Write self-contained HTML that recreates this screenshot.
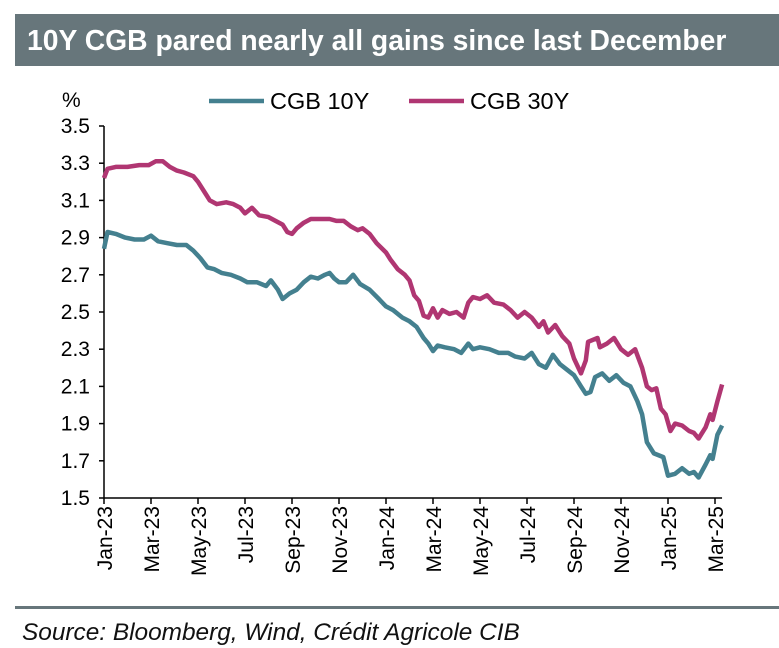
<!DOCTYPE html>
<html><head><meta charset="utf-8"><style>
body{margin:0;width:779px;height:648px;background:#fff;font-family:"Liberation Sans",Arial,sans-serif;overflow:hidden;position:relative}
#title{position:absolute;left:15px;top:14px;width:764px;height:52px;background:#67767b;color:#fff;font-weight:bold;font-size:28.3px;line-height:52px;padding-left:12px;box-sizing:border-box;white-space:nowrap}
#rule{position:absolute;left:15px;top:606px;width:764px;height:3px;background:#67767b}
#src{position:absolute;left:22px;top:619px;font-style:italic;font-size:24.4px;color:#111;white-space:nowrap}
</style></head><body>
<div id="title">10Y CGB pared nearly all gains since last December</div>
<svg id="chart" width="779" height="648" style="position:absolute;left:0;top:0"></svg>
<div id="rule"></div>
<div id="src">Source: Bloomberg, Wind, Crédit Agricole CIB</div>
<script>
const yTicks=[1.5,1.7,1.9,2.1,2.3,2.5,2.7,2.9,3.1,3.3,3.5];
const xLabels=["Jan-23","Mar-23","May-23","Jul-23","Sep-23","Nov-23","Jan-24","Mar-24","May-24","Jul-24","Sep-24","Nov-24","Jan-25","Mar-25"];
const t10=[0,0.15,0.5,0.9,1.3,1.7,2.0,2.3,2.7,3.1,3.5,3.8,4.1,4.4,4.7,5.0,5.4,5.8,6.1,6.5,6.9,7.1,7.4,7.6,7.9,8.2,8.5,8.8,9.1,9.4,9.6,9.8,10.0,10.3,10.6,10.9,11.3,11.7,12.0,12.3,12.7,13.0,13.3,13.6,13.8,14.0,14.2,14.5,14.9,15.2,15.5,15.7,16.0,16.4,16.8,17.2,17.5,17.9,18.2,18.5,18.8,19.1,19.4,19.7,20.0,20.3,20.5,20.7,20.9,21.2,21.5,21.8,22.1,22.4,22.7,22.9,23.1,23.4,23.8,24.0,24.3,24.6,24.9,25.1,25.3,25.6,25.8,25.9,26.1,26.3];
const cgb10=[2.84,2.93,2.92,2.90,2.89,2.89,2.91,2.88,2.87,2.86,2.86,2.83,2.79,2.74,2.73,2.71,2.70,2.68,2.66,2.66,2.64,2.67,2.62,2.57,2.60,2.62,2.66,2.69,2.68,2.70,2.71,2.68,2.66,2.66,2.70,2.65,2.62,2.57,2.53,2.51,2.47,2.45,2.42,2.36,2.33,2.29,2.32,2.31,2.30,2.28,2.33,2.30,2.31,2.30,2.28,2.28,2.26,2.25,2.28,2.22,2.20,2.27,2.22,2.19,2.16,2.10,2.06,2.07,2.15,2.17,2.13,2.16,2.12,2.10,2.02,1.95,1.80,1.74,1.72,1.62,1.63,1.66,1.63,1.64,1.61,1.68,1.73,1.71,1.84,1.89];
const t30=[0,0.15,0.5,1.0,1.5,1.9,2.2,2.5,2.8,3.1,3.4,3.8,4.0,4.3,4.5,4.8,5.2,5.5,5.8,6.0,6.3,6.6,7.0,7.3,7.6,7.8,8.0,8.2,8.5,8.8,9.2,9.6,9.9,10.2,10.5,10.8,11.0,11.3,11.6,12.0,12.2,12.5,12.8,13.0,13.2,13.4,13.6,13.8,14.0,14.2,14.4,14.7,15.0,15.3,15.5,15.7,16.0,16.3,16.6,17.0,17.3,17.6,17.9,18.2,18.5,18.7,18.9,19.2,19.5,19.8,20.0,20.3,20.5,20.6,21.0,21.1,21.4,21.7,22.0,22.3,22.6,22.9,23.1,23.3,23.5,23.7,23.9,24.1,24.3,24.6,24.9,25.1,25.3,25.6,25.8,25.9,26.1,26.3];
const cgb30=[3.22,3.27,3.28,3.28,3.29,3.29,3.31,3.31,3.28,3.26,3.25,3.23,3.20,3.14,3.10,3.08,3.09,3.08,3.06,3.03,3.06,3.02,3.01,2.99,2.97,2.93,2.92,2.95,2.98,3.00,3.00,3.00,2.99,2.99,2.96,2.94,2.95,2.92,2.87,2.82,2.78,2.73,2.70,2.67,2.59,2.56,2.48,2.47,2.52,2.47,2.51,2.49,2.50,2.47,2.55,2.58,2.57,2.59,2.55,2.54,2.51,2.47,2.50,2.47,2.42,2.45,2.39,2.43,2.37,2.33,2.25,2.17,2.24,2.34,2.36,2.31,2.33,2.36,2.30,2.27,2.30,2.20,2.10,2.08,2.09,1.98,1.95,1.86,1.90,1.89,1.86,1.85,1.82,1.88,1.95,1.92,2.02,2.11];
const svg=document.getElementById('chart');const NS='http://www.w3.org/2000/svg';
const X0=104,XW=23.5,Y0=498,YT=126;
const xs=m=>X0+m*XW; const ys=v=>Y0-(v-1.5)/2.0*(Y0-YT);
function mk(tag,at){const e=document.createElementNS(NS,tag);for(const k in at)e.setAttribute(k,at[k]);svg.appendChild(e);return e;}
let ax=mk('line',{x1:X0,y1:YT,x2:X0,y2:Y0,stroke:'#000','stroke-width':1.5});

let bx=mk('line',{x1:X0,y1:Y0,x2:xs(26.3),y2:Y0,stroke:'#000','stroke-width':1.5});

yTicks.forEach(v=>{const y=ys(v);
mk('line',{x1:X0-5,y1:y,x2:X0,y2:y,stroke:'#000','stroke-width':1.5});
const t=mk('text',{x:X0-14,y:y+7,'text-anchor':'end','font-size':21,fill:'#000'});t.textContent=v.toFixed(1);
});
const u=mk('text',{x:62,y:107,'font-size':21});u.textContent='%';

xLabels.forEach((l,i)=>{const x=xs(i*2);
mk('line',{x1:x,y1:Y0,x2:x,y2:Y0+6,stroke:'#000','stroke-width':1.5});
const t=mk('text',{x:0,y:0,'text-anchor':'end','font-size':21,transform:`translate(${x+8},${Y0+8}) rotate(-90)`});t.textContent=l;
});
function line(ts,vs,c,name){const p=vs.map((v,i)=>xs(ts[i]).toFixed(1)+','+ys(v).toFixed(1)).join(' ');
const e=mk('polyline',{points:p,fill:'none',stroke:c,'stroke-width':4.5,'stroke-linejoin':'round'});
}
line(t10,cgb10,'#44808f','line-cgb-10y');
line(t30,cgb30,'#b03672','line-cgb-30y');
[[209,'#44808f','CGB 10Y'],[409,'#b03672','CGB 30Y']].forEach(([x,c,l])=>{
mk('line',{x1:x,y1:101,x2:x+55,y2:101,stroke:c,'stroke-width':4.5});
const t=mk('text',{x:x+61,y:109,'font-size':23.5});t.textContent=l;
});
</script>
</body></html>
